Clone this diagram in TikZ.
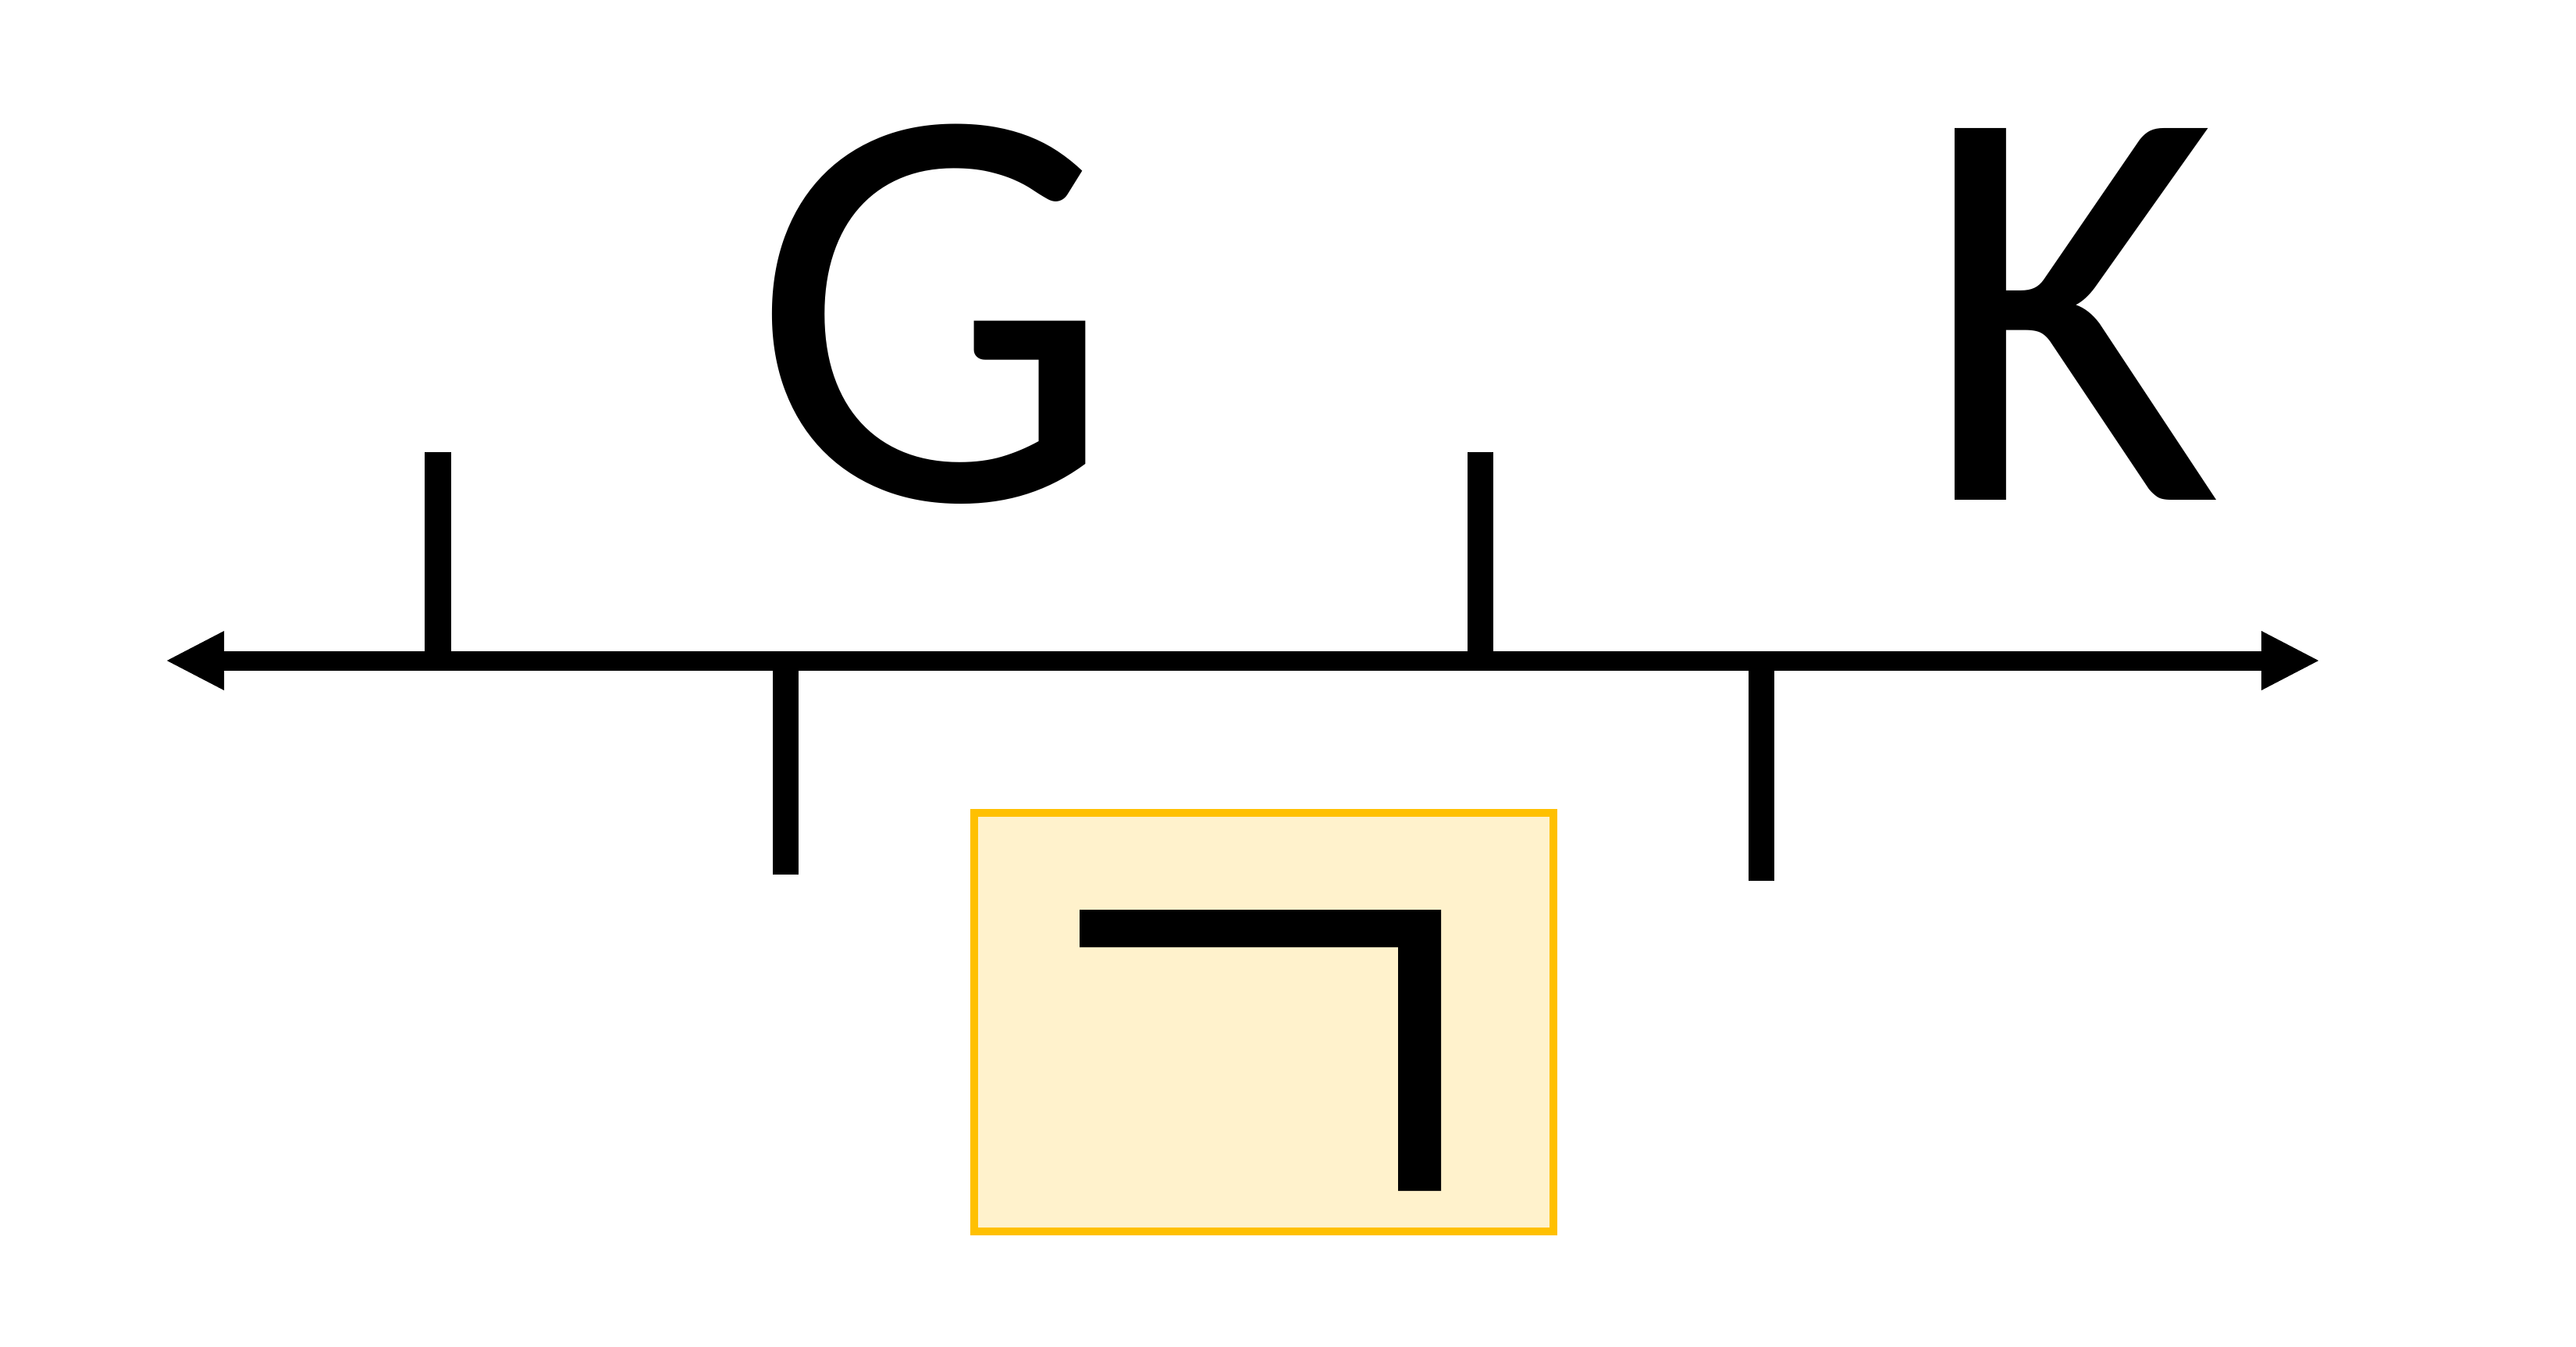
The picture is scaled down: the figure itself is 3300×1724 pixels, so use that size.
\documentclass[tikz,border=0pt]{standalone}
\usepackage{fontspec}
\setmainfont{Carlito}
\usetikzlibrary{arrows.meta}
\definecolor{boxfill}{HTML}{FFF2CC}
\definecolor{boxline}{HTML}{FFC000}
\tikzset{
  axisline/.style={line width=0.25cm, {Triangle[length=0.75cm,width=0.70cm]}-{Triangle[length=0.75cm,width=0.70cm]}},
  tickline/.style={line width=0.33cm},
  bigletter/.style={inner sep=0pt, anchor=base, font=\fontsize{211pt}{211pt}\selectfont},
  yellowbox/.style={draw=boxline, fill=boxfill, line width=0.1cm}
}
\begin{document}
\begin{tikzpicture}[x=0.01cm,y=-0.01cm]
\useasboundingbox (0,0) rectangle (3300,1724);
% axis
\coordinate (axL) at (212,846);
\coordinate (axR) at (2972,846);
\draw[axisline] (axL) -- (axR);
% ticks
\coordinate (t1a) at (561,846); \coordinate (t1b) at (561,579);
\coordinate (t2a) at (1006,846); \coordinate (t2b) at (1006,1120);
\coordinate (t3a) at (1896,846); \coordinate (t3b) at (1896,579);
\coordinate (t4a) at (2256,846); \coordinate (t4b) at (2256,1128);
\draw[tickline] (t1a) -- (t1b);
\draw[tickline] (t2a) -- (t2b);
\draw[tickline] (t3a) -- (t3b);
\draw[tickline] (t4a) -- (t4b);
% letters
\node[bigletter] (G) at (1196,640) {G};
\node[bigletter] (K) at (2652,640) {K};
% box
\draw[yellowbox] (1248,1041) rectangle (1990,1577);
\fill[black] (1383,1165) -- (1846,1165) -- (1846,1525) -- (1791,1525) -- (1791,1213) -- (1383,1213) -- cycle;
\end{tikzpicture}
\end{document}
